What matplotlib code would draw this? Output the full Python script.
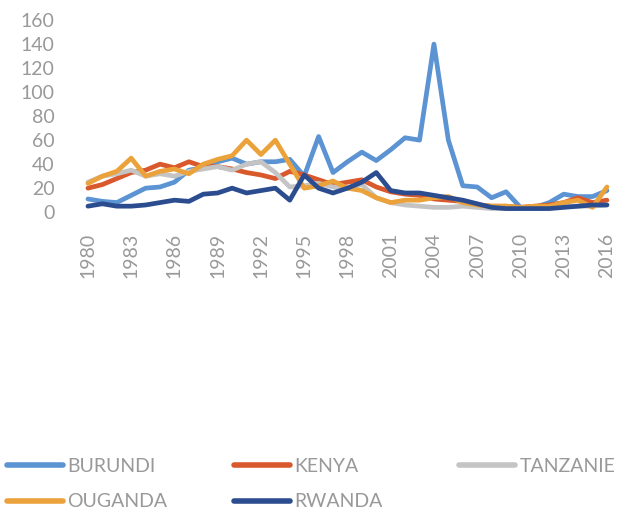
import numpy as np
import matplotlib.pyplot as plt

years = np.arange(1980, 2017)

burundi = [11, 9, 8, 14, 20, 21, 25, 35, 37, 42, 45, 40, 42, 42, 44, 30, 63, 33, 42, 50,
           43, 52, 62, 60, 140, 60, 22, 21, 12, 17, 4, 4, 8, 15, 13, 13, 18]
kenya = [20, 23, 28, 33, 35, 40, 37, 42, 38, 38, 36, 33, 31, 28, 34, 31, 27, 23, 25, 27,
         21, 17, 15, 14, 11, 10, 9, 6, 5, 5, 4, 5, 6, 8, 12, 8, 10]
tanzanie = [25, 30, 32, 35, 30, 32, 30, 34, 36, 38, 35, 40, 42, 33, 21, 22, 24, 21, 20, 23,
            12, 8, 6, 5, 4, 4, 5, 4, 3, 3, 3, 3, 4, 5, 5, 5, 6]
ouganda = [24, 30, 34, 45, 30, 34, 36, 32, 40, 44, 47, 60, 48, 60, 40, 20, 22, 26, 20, 18,
           12, 8, 10, 10, 12, 13, 8, 6, 5, 5, 4, 5, 5, 8, 10, 4, 21]
rwanda = [5, 7, 5, 5, 6, 8, 10, 9, 15, 16, 20, 16, 18, 20, 10, 31, 20, 16, 20, 25,
          33, 18, 16, 16, 14, 12, 10, 7, 4, 3, 3, 3, 3, 4, 5, 6, 6]

series = [
    ("BURUNDI", burundi, "#5b93d3"),
    ("KENYA", kenya, "#d9582c"),
    ("TANZANIE", tanzanie, "#c4c4c4"),
    ("OUGANDA", ouganda, "#eca23a"),
    ("RWANDA", rwanda, "#2b4d8f"),
]

plt.rcParams['font.family'] = ['Lato', 'DejaVu Sans']
grey = '#999999'

fig = plt.figure(figsize=(6.21, 5.15), dpi=100)
ax = fig.add_axes([0.137, 0.588, 0.845, 0.373])

handles = {}
for name, vals, col in series:
    ln, = ax.plot(years, vals, color=col, lw=3.4, solid_capstyle='round',
                  solid_joinstyle='round', label=name)
    handles[name] = ln

ax.set_xlim(1979.8, 2016.2)
ax.set_ylim(0, 160)
ax.set_yticks(range(0, 161, 20))
ax.set_xticks(years[::3])
ax.tick_params(axis='y', length=0, pad=22, labelsize=14, labelcolor=grey)
ax.tick_params(axis='x', length=0, pad=15, labelsize=14, labelcolor=grey, labelrotation=90)
for s in ax.spines.values():
    s.set_visible(False)

# legend: three equal-width columns, like the original
columns = [["BURUNDI", "OUGANDA"], ["KENYA", "RWANDA"], ["TANZANIE"]]
col_x = [7, 234, 459]
for names, x in zip(columns, col_x):
    leg = fig.legend([handles[n] for n in names], names, loc='upper left',
                     bbox_to_anchor=(x / 621, 1 - 458 / 515), borderaxespad=0,
                     borderpad=0, frameon=False, prop={'size': 14},
                     handlelength=2.9, handletextpad=0.2, labelspacing=0.95)
    for t in leg.get_texts():
        t.set_color(grey)
    for h in leg.legend_handles:
        h.set_linewidth(4)

fig.savefig('out.png', dpi=100)
